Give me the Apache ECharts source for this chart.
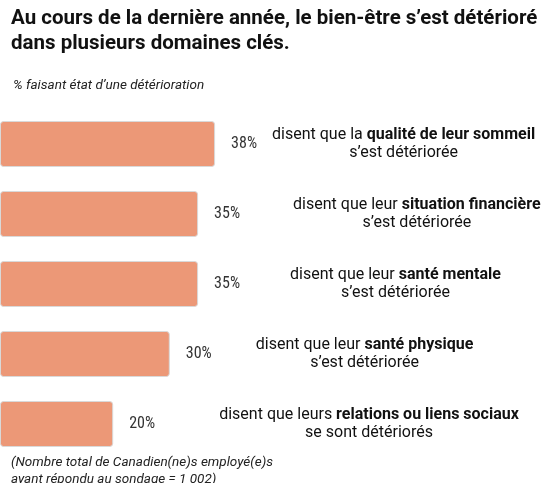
<!DOCTYPE html>
<html>
<head>
<meta charset="utf-8">
<script src="https://cdn.jsdelivr.net/npm/echarts@6/dist/echarts.min.js"></script>
<style>html,body{margin:0;padding:0;background:#fff}#chart{width:550px;height:483px}</style>
</head>
<body>
<div id="chart"></div>
<script>
const categories = ["sommeil", "finances", "mentale", "physique", "social"];
const values = [38, 35, 35, 30, 20];
const leadTexts = ["disent que la ", "disent que leur ", "disent que leur ", "disent que leur ", "disent que leurs "];
const boldTexts = ["qualité de leur sommeil", "situation financière", "santé mentale", "santé physique", "relations ou liens sociaux"];
const tailTexts = ["s’est détériorée", "s’est détériorée", "s’est détériorée", "s’est détériorée", "se sont détériorés"];
// gap between bar end and description text, per row
const textGaps = [57, 95, 92, 86, 106];

const chart = echarts.init(document.getElementById("chart"));
chart.setOption({
  animation: false,
  textStyle: { fontFamily: "Roboto" },
  title: [
    { text: "Au cours de la dernière année, le bien-être s’est détérioré\ndans plusieurs domaines clés.", left: 6, top: 1,
      textStyle: { fontSize: 20.5, fontWeight: "bold", color: "#111", lineHeight: 25, fontFamily: "Roboto" } },
    { text: "% faisant état d’une détérioration", left: 8, top: 74,
      textStyle: { fontSize: 13.5, fontStyle: "italic", fontWeight: "normal", color: "#222", fontFamily: "Roboto" } },
    { text: "(Nombre total de Canadien(ne)s employé(e)s\nayant répondu au sondage = 1 002)", left: 6, top: 449,
      textStyle: { fontSize: 13.5, fontStyle: "italic", fontWeight: "normal", color: "#222", lineHeight: 17, fontFamily: "Roboto" } }
  ],
  grid: { left: 0, top: 109, width: 283, height: 350 },
  xAxis: { type: "value", min: 0, max: 50, show: false },
  yAxis: { type: "category", data: categories, inverse: true, show: false },
  series: [
    {
      type: "bar", data: values, barWidth: 46,
      itemStyle: { color: "#EC9877", borderColor: "#d9d9d9", borderWidth: 1, borderRadius: 3 },
      label: { show: true, position: "right", distance: 16, formatter: "{c}%", fontSize: 16, color: "#333", fontFamily: "Roboto Condensed, Roboto" }
    },
    {
      type: "bar", barWidth: 46, barGap: "-100%", silent: true,
      data: values.map((v, i) => ({ value: v, label: { distance: textGaps[i] } })),
      itemStyle: { color: "transparent" },
      label: {
        show: true, position: "right",
        formatter: p => "{t|" + leadTexts[p.dataIndex] + "}{b|" + boldTexts[p.dataIndex] + "}\n{t|" + tailTexts[p.dataIndex] + "}",
        rich: {
          t: { fontSize: 16, color: "#111", align: "center", lineHeight: 18 },
          b: { fontSize: 16, color: "#111", fontWeight: "bold", align: "center", lineHeight: 18 }
        }
      }
    }
  ]
});
</script>
</body>
</html>
